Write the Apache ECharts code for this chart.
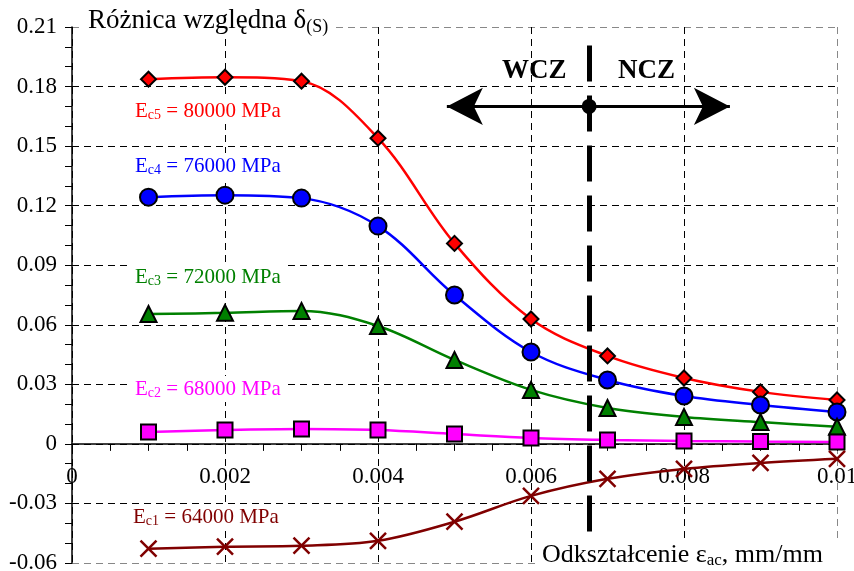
<!DOCTYPE html>
<html>
<head>
<meta charset="utf-8">
<script src="https://cdn.jsdelivr.net/npm/echarts@6/dist/echarts.min.js"></script>
<style>
  html, body { margin: 0; padding: 0; background: #fff; }
  #chart { width: 854px; height: 571px; }
</style>
</head>
<body>
<div id="chart"></div>
<script>
// strain values (mm/mm)
const strain = [0.001, 0.002, 0.003, 0.004, 0.005, 0.006, 0.007, 0.008, 0.009, 0.010];

// relative difference delta(S) for each Ec
const ec5 = [0.1837, 0.1847, 0.1827, 0.154, 0.101, 0.0629, 0.0443, 0.0332, 0.0262, 0.0221];
const ec4 = [0.1243, 0.1253, 0.1238, 0.1097, 0.075, 0.0463, 0.0322, 0.0241, 0.0196, 0.0161];
const ec3 = [0.0654, 0.066, 0.067, 0.0594, 0.0423, 0.0272, 0.0181, 0.0136, 0.011, 0.0086];
const ec2 = [0.006, 0.007, 0.0075, 0.007, 0.005, 0.003, 0.002, 0.0015, 0.0012, 0.001];
const ec1 = [-0.0528, -0.0518, -0.0513, -0.0488, -0.0392, -0.0262, -0.0176, -0.0126, -0.0096, -0.0075];

// WCZ / NCZ boundary
const zoneX = 0.00676;
const zoneTop = 0.2007;
const zoneBottom = -0.0443;
const arrowY = 0.170;
const arrowLeft = 0.0049;
const arrowRight = 0.0086;

const FONT = 'Liberation Serif';
const GRID = { left: 72, right: 17, top: 27, bottom: 8 };
const plotH = 571 - GRID.top - GRID.bottom;
// x axis sits on y = 0 : 2 of 9 steps above the bottom
const zeroOffset = -plotH * 2 / 9;

const pair = (ys) => strain.map((x, i) => [x, ys[i]]);
const fmt = (v, d) => Math.abs(v) < 1e-9 ? '0' : String(parseFloat(v.toFixed(d)));

function curve(name, ys, color, symbol, size) {
  return {
    name: name,
    type: 'line',
    data: pair(ys),
    smooth: 0.35,
    symbol: symbol,
    symbolSize: size,
    showAllSymbol: true,
    lineStyle: { color: color, width: 2.5 },
    itemStyle: { color: color, borderColor: '#000', borderWidth: 2 },
    z: 3
  };
}

function seriesLabel(x, y, color, sub, val) {
  return {
    type: 'text', left: x, top: y, z: 10,
    style: {
      text: '{a|E}{s|' + sub + '}{a| = ' + val + ' MPa}',
      backgroundColor: '#fff', padding: [0, 3, 0, 3],
      rich: {
        a: { fontFamily: FONT, fontSize: 21, fill: color, color: color, lineHeight: 26 },
        s: { fontFamily: FONT, fontSize: 14, fill: color, color: color, padding: [9, 0, 0, 0] }
      }
    }
  };
}

const crossSeries = curve('Ec1', ec1, '#800000', 'path://M0,0L10,10M10,0L0,10', 16);
crossSeries.itemStyle = { color: 'none', borderColor: '#800000', borderWidth: 2.5 };

const chart = echarts.init(document.getElementById('chart'));
chart.setOption({
  animation: false,
  grid: Object.assign({ containLabel: false, outerBoundsMode: 'none' }, GRID),
  xAxis: {
    type: 'value',
    min: 0, max: 0.01, interval: 0.002,
    offset: zeroOffset,
    axisLine: { onZero: false, lineStyle: { color: '#000', width: 1.5 } },
    axisTick: { show: true, length: 7, lineStyle: { color: '#000' } },
    minorTick: { show: true, splitNumber: 4, length: 7, lineStyle: { color: '#000' } },
    axisLabel: {
      margin: 22, color: '#000', fontFamily: FONT, fontSize: 23,
      formatter: (v) => fmt(v, 4)
    },
    splitLine: {
      show: true,
      lineStyle: { color: ['#000', '#000', '#000', '#000', '#000', '#888'], type: [7, 5], width: 1 }
    }
  },
  yAxis: {
    type: 'value',
    min: -0.06, max: 0.21, interval: 0.03,
    axisLine: { show: true, onZero: false, lineStyle: { color: '#000', width: 1.5 } },
    axisTick: { show: true, length: 7, lineStyle: { color: '#000' } },
    minorTick: { show: true, splitNumber: 3, length: 7, lineStyle: { color: '#000' } },
    axisLabel: {
      margin: 15, color: '#000', fontFamily: FONT, fontSize: 23,
      formatter: (v) => fmt(v, 2)
    },
    splitLine: {
      show: true,
      lineStyle: {
        color: ['#888', '#000', '#000', '#000', '#000', '#000', '#000', '#000', '#000', '#888'],
        type: [7, 5], width: 1
      }
    }
  },
  series: [
    curve('Ec5', ec5, '#ff0000', 'diamond', 15),
    curve('Ec4', ec4, '#0000ff', 'circle', 17),
    curve('Ec3', ec3, '#008000', 'triangle', 16),
    curve('Ec2', ec2, '#ff00ff', 'rect', 15),
    crossSeries,
    {
      name: 'zone',
      type: 'scatter',
      data: [[zoneX, arrowY]],
      symbolSize: 15,
      itemStyle: { color: '#000', opacity: 1 },
      z: 6,
      markLine: {
        silent: true,
        z: 4,
        label: { show: false },
        data: [
          [
            { coord: [zoneX, zoneTop], symbol: 'none', lineStyle: { color: '#000', width: 5, type: [36, 14] } },
            { coord: [zoneX, zoneBottom], symbol: 'none' }
          ],
          [
            { coord: [arrowLeft, arrowY], symbol: 'arrow', symbolSize: [28, 36], lineStyle: { color: '#000', width: 3, type: 'solid' } },
            { coord: [arrowRight, arrowY], symbol: 'arrow', symbolSize: [28, 36] }
          ]
        ]
      }
    }
  ],
  graphic: [
    {
      type: 'text', left: 84, top: 3, z: 10,
      style: {
        text: '{a|Różnica względna δ}{s|(S)}',
        backgroundColor: '#fff', padding: [2, 4, 2, 4],
        rich: {
          a: { fontFamily: FONT, fontSize: 27, fill: '#000', lineHeight: 32 },
          s: { fontFamily: FONT, fontSize: 18, fill: '#000', padding: [12, 0, 0, 0] }
        }
      }
    },
    {
      type: 'text', left: 536, top: 538, z: 10,
      style: {
        text: '{a|Odkształcenie ε}{s|ac}{a|, mm/mm}',
        backgroundColor: '#fff', padding: [2, 30, 6, 6],
        rich: {
          a: { fontFamily: FONT, fontSize: 26, fill: '#000', lineHeight: 30 },
          s: { fontFamily: FONT, fontSize: 17, fill: '#000', padding: [12, 0, 0, 0] }
        }
      }
    },
    { type: 'text', left: 502, top: 58, z: 10, style: { text: 'WCZ', fontFamily: FONT, fontSize: 27, fontWeight: 'bold', fill: '#000' } },
    { type: 'text', left: 618, top: 58, z: 10, style: { text: 'NCZ', fontFamily: FONT, fontSize: 27, fontWeight: 'bold', fill: '#000' } },
    seriesLabel(132, 98, '#ff0000', 'c5', '80000'),
    seriesLabel(132, 153, '#0000ff', 'c4', '76000'),
    seriesLabel(132, 264, '#008000', 'c3', '72000'),
    seriesLabel(132, 376, '#ff00ff', 'c2', '68000'),
    seriesLabel(130, 504, '#800000', 'c1', '64000')
  ]
});
</script>
</body>
</html>
